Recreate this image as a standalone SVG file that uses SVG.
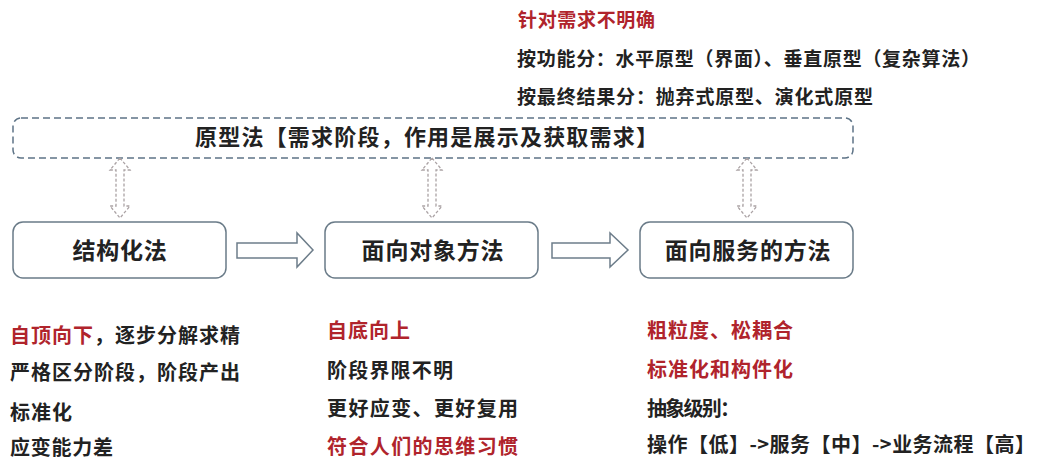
<svg xmlns="http://www.w3.org/2000/svg" width="1041" height="465" viewBox="0 0 1041 465">
<style>
text{font-family:"Noto Sans CJK SC","Noto Sans",sans-serif;font-weight:bold;fill:#222}
.red{fill:#b0242c}
.t{font-size:20px}
.tt{font-size:19px}
.lab{font-size:23px;letter-spacing:0.8px}
.node{fill:#fff;stroke:#6a7b88;stroke-width:1.5}
.proto{fill:#fff;stroke:#5d7386;stroke-width:1.5;stroke-dasharray:7 4}
.flow{fill:#fff;stroke:#6d7d8a;stroke-width:1.5}
.dbl{fill:#fff;stroke:#aaa2a4;stroke-width:1.3;stroke-dasharray:3 2}
</style>
<rect width="1041" height="465" fill="#fff"/>

<g id="notes-top">
<text class="tt red" x="518" y="27" textLength="137" lengthAdjust="spacing">针对需求不明确</text>
<text class="tt" x="517" y="66" textLength="463" lengthAdjust="spacing">按功能分：水平原型（界面）、垂直原型（复杂算法）</text>
<text class="tt" x="517" y="104" textLength="356" lengthAdjust="spacing">按最终结果分：抛弃式原型、演化式原型</text>
</g>

<g id="prototype">
<rect class="proto" x="13" y="118" width="840" height="40" rx="8"/>
<text x="195" y="145" font-size="22" textLength="463" lengthAdjust="spacing">原型法【需求阶段，作用是展示及获取需求】</text>
</g>

<g id="structured">
<rect class="node" x="13" y="222" width="213" height="56" rx="10"/>
<text class="lab" x="120" y="259" text-anchor="middle">结构化法</text>
</g>
<g id="oo">
<rect class="node" x="325" y="222" width="213" height="56" rx="10"/>
<text class="lab" x="433" y="259" text-anchor="middle">面向对象方法</text>
</g>
<g id="soa">
<rect class="node" x="640" y="222" width="213" height="56" rx="10"/>
<text class="lab" x="748" y="259" text-anchor="middle">面向服务的方法</text>
</g>

<g id="connectors">
<path class="flow" d="M237,243 H297 V233 L313,250 L297,267 V258 H237 Z"/>
<path class="flow" d="M552,243 H610 V233 L628,250 L610,267 V258 H552 Z"/>
<path class="dbl" d="M120,158 L130,170 H124 V206 H130 L120,218 L110,206 H116 V170 H110 Z"/>
<path class="dbl" d="M432,158 L442,170 H436 V206 H442 L432,218 L422,206 H428 V170 H422 Z"/>
<path class="dbl" d="M747,158 L757,170 H751 V206 H757 L747,218 L737,206 H743 V170 H737 Z"/>
</g>

<g id="notes-structured">
<text class="t" x="10" y="343" textLength="230" lengthAdjust="spacing"><tspan class="red">自顶向下</tspan>，逐步分解求精</text>
<text class="t" x="10" y="380" textLength="230" lengthAdjust="spacing">严格区分阶段，阶段产出</text>
<text class="t" x="10" y="420" textLength="62" lengthAdjust="spacing">标准化</text>
<text class="t" x="10" y="455" textLength="103" lengthAdjust="spacing">应变能力差</text>
</g>

<g id="notes-oo">
<text class="t red" x="327" y="338" textLength="83" lengthAdjust="spacing">自底向上</text>
<text class="t" x="327" y="378" textLength="126" lengthAdjust="spacing">阶段界限不明</text>
<text class="t" x="327" y="416" textLength="191" lengthAdjust="spacing">更好应变、更好复用</text>
<text class="t red" x="327" y="454" textLength="191" lengthAdjust="spacing">符合人们的思维习惯</text>
</g>

<g id="notes-soa">
<text class="t red" x="647" y="338" textLength="146" lengthAdjust="spacing">粗粒度、松耦合</text>
<text class="t red" x="647" y="377" textLength="146" lengthAdjust="spacing">标准化和构件化</text>
<text class="t" x="647" y="416" textLength="93" lengthAdjust="spacing">抽象级别：</text>
<text class="t" x="647" y="452" textLength="388" lengthAdjust="spacing">操作【低】-&gt;服务【中】-&gt;业务流程【高】</text>
</g>
</svg>
